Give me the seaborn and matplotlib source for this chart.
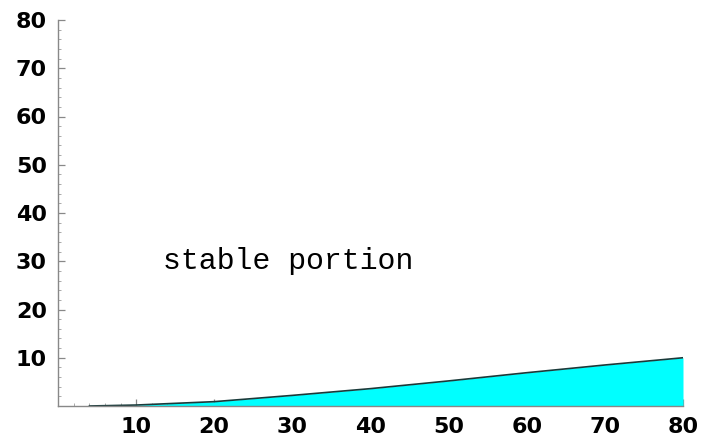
import matplotlib
matplotlib.use("Agg")
import matplotlib.pyplot as plt
import seaborn as sns
import pandas as pd
from matplotlib.ticker import MultipleLocator

# data
x_vals = [4, 10, 20, 30, 40, 50, 60, 70, 80]
y_vals = [0.0, 0.2, 0.9, 2.2, 3.6, 5.2, 6.9, 8.5, 10.0]
x_ticks = [10, 20, 30, 40, 50, 60, 70, 80]
y_ticks = [10, 20, 30, 40, 50, 60, 70, 80]
label_text = "stable portion"

df = pd.DataFrame({"x": x_vals, "y": y_vals})

sns.set_style("white")
plt.rcParams["font.family"] = ["DejaVu Sans"]

fig = plt.figure(figsize=(7.02, 4.42), dpi=100)
ax = fig.add_axes([58 / 702, 1 - 406 / 442, (683 - 58) / 702, (406 - 20) / 442])

ax.fill_between(df["x"], 0, df["y"], color="#00FFFF", linewidth=0, zorder=1)
sns.lineplot(data=df, x="x", y="y", ax=ax, color="#1a3a3a", linewidth=1.2, zorder=2)

ax.set_xlim(0, 80)
ax.set_ylim(0, 80)
ax.set_xticks(x_ticks)
ax.set_yticks(y_ticks)
ax.xaxis.set_minor_locator(MultipleLocator(2))
ax.yaxis.set_minor_locator(MultipleLocator(2))
ax.tick_params(axis="both", which="both", bottom=True, left=True, top=False, right=False)
ax.tick_params(axis="both", which="major", direction="in", length=5, width=0.9,
               color="#888888", labelsize=16, labelcolor="black", pad=8)
ax.tick_params(axis="both", which="minor", direction="in", length=2.5, width=0.7,
               color="#aaaaaa")
for lab in ax.get_xticklabels() + ax.get_yticklabels():
    lab.set_fontweight("bold")

for side in ["top", "right"]:
    ax.spines[side].set_visible(False)
for side in ["left", "bottom"]:
    ax.spines[side].set_color("#888888")
    ax.spines[side].set_linewidth(1.0)

ax.set_xlabel("")
ax.set_ylabel("")
ax.text(29.5, 30, label_text, family="Liberation Mono", fontsize=21.5,
        ha="center", va="center", color="black")

fig.savefig("out.png", dpi=100)
